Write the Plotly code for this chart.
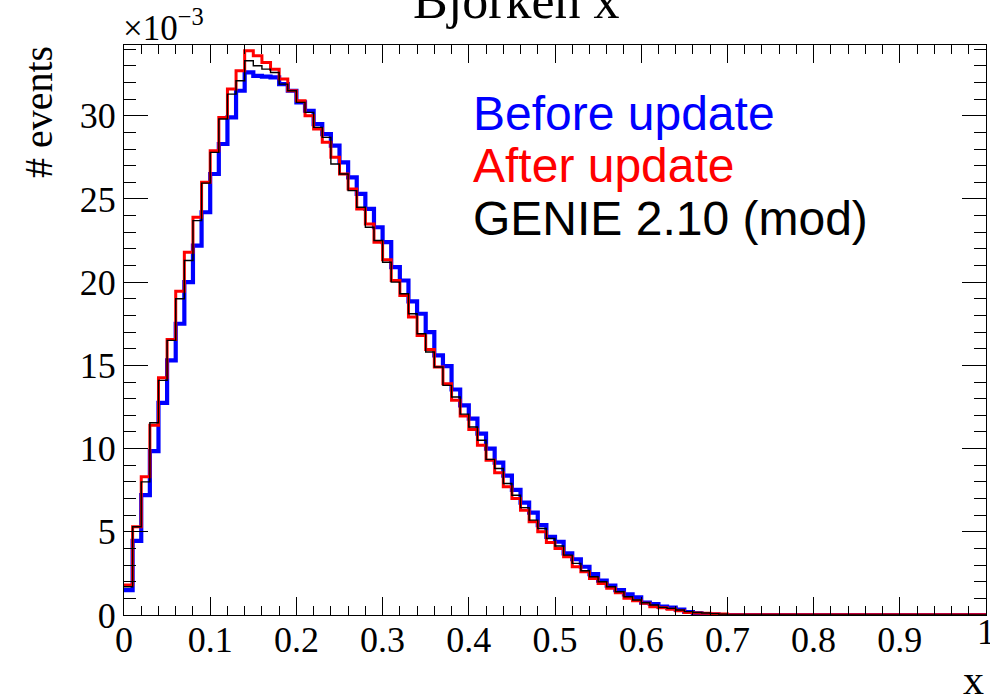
import numpy as np
import plotly.graph_objects as go

# Histogram contents, in units of 1e-3, 100 bins of width 0.01 from x=0 to x=1
bin_lo, bin_hi, n_bins = 0.0, 1.0, 100

before_update = [
    1.5, 4.45, 7.2, 9.85, 12.75, 15.3, 17.5, 20.0, 22.2, 24.2,
    26.5, 28.3, 29.9, 31.5, 32.6, 32.4, 32.35, 32.3, 31.9, 31.5,
    30.8, 30.3, 29.5, 28.9, 28.2, 27.2, 26.3, 25.3, 24.4, 23.3,
    22.4, 20.9, 20.1, 18.85, 18.1, 17.0, 15.6, 14.95, 13.55, 12.6,
    11.8, 10.9, 10.0, 9.15, 8.38, 7.52, 6.75, 6.15, 5.4, 4.7,
    4.4, 3.7, 3.35, 2.9, 2.46, 2.06, 1.76, 1.5, 1.24, 1.06,
    0.74, 0.66, 0.5, 0.44, 0.32, 0.18, 0.1, 0.05, 0.02, 0.0,
    0, 0, 0, 0, 0, 0, 0, 0, 0, 0,
    0, 0, 0, 0, 0, 0, 0, 0, 0, 0,
    0, 0, 0, 0, 0, 0, 0, 0, 0, 0,
]

after_update = [
    1.8, 5.3, 8.3, 11.4, 14.25, 16.55, 19.45, 21.8, 23.9, 26.0,
    27.9, 29.9, 31.6, 32.7, 33.9, 33.6, 33.2, 32.8, 32.2, 31.5,
    30.9, 30.0, 29.2, 28.4, 27.5, 26.5, 25.6, 24.4, 23.5, 22.4,
    21.35, 20.1, 19.2, 17.9, 16.8, 15.95, 14.9, 13.9, 12.9, 11.95,
    11.15, 10.2, 9.3, 8.55, 7.7, 7.0, 6.3, 5.6, 5.0, 4.35,
    4.0, 3.5, 2.9, 2.6, 2.2, 1.9, 1.6, 1.34, 1.0, 0.86,
    0.7, 0.5, 0.44, 0.34, 0.26, 0.15, 0.12, 0.1, 0.08, 0.06,
    0.02, 0.02, 0.02, 0.02, 0.02, 0.02, 0.02, 0.02, 0.02, 0.02,
    0.02, 0.02, 0.02, 0.02, 0.02, 0.02, 0.02, 0.02, 0.02, 0.02,
    0.02, 0.02, 0.02, 0.02, 0.02, 0.02, 0.02, 0.02, 0.02, 0.02,
]

genie_mod = [
    1.7, 5.3, 8.0, 11.55, 14.1, 16.5, 19.0, 21.3, 23.7, 25.95,
    27.8, 29.8, 31.3, 32.1, 33.3, 33.0, 32.8, 32.6, 31.9, 31.5,
    30.8, 30.2, 29.3, 28.7, 27.1, 26.5, 25.5, 24.5, 23.3, 22.5,
    21.2, 20.0, 19.3, 18.1, 16.9, 15.8, 14.9, 13.8, 13.1, 12.07,
    11.3, 10.5, 9.35, 8.8, 7.9, 7.2, 6.45, 5.7, 5.2, 4.6,
    4.15, 3.6, 3.1, 2.66, 2.3, 2.0, 1.7, 1.4, 1.1, 0.9,
    0.74, 0.6, 0.46, 0.4, 0.3, 0.2, 0.15, 0.12, 0.08, 0.05,
    0.01, 0.01, 0.01, 0.01, 0.01, 0.01, 0.01, 0.01, 0.01, 0.01,
    0.01, 0.01, 0.01, 0.01, 0.01, 0.01, 0.01, 0.01, 0.01, 0.01,
    0.01, 0.01, 0.01, 0.01, 0.01, 0.01, 0.01, 0.01, 0.01, 0.01,
]

series_names = ["Before update", "After update", "GENIE 2.10 (mod)"]
x_ticks = [0, 0.1, 0.2, 0.3, 0.4, 0.5, 0.6, 0.7, 0.8, 0.9, 1]
x_tick_labels = ["0", "0.1", "0.2", "0.3", "0.4", "0.5", "0.6", "0.7", "0.8", "0.9", "1"]
y_ticks = [0, 5, 10, 15, 20, 25, 30]
y_tick_labels = ["0", "5", "10", "15", "20", "25", "30"]
y_max = 34.25

edges = np.linspace(bin_lo, bin_hi, n_bins + 1)

def step(vals):
    v = list(vals)
    return v + [v[-1]]

SERIF = "Liberation Serif"
SANS = "Liberation Sans"
TICKSIZE = 36

fig = go.Figure()
styles = [
    (before_update, "#0000ff", 4.2),
    (after_update, "#ff0000", 3.0),
    (genie_mod, "#000000", 1.4),
]
for (vals, col, w), name in zip(styles, series_names):
    fig.add_trace(go.Scatter(
        x=edges, y=step(vals), mode="lines", line_shape="hv",
        line=dict(color=col, width=w), name=name, showlegend=False,
        hoverinfo="skip"))

L, R, T, B = 124, 4, 45, 84
W, H = 990, 699
pw, ph = W - L - R, H - T - B

def px(x):
    return (x - L) / pw

def py(y):
    return (H - B - y) / ph

# last x tick label sits on the right edge (cut in the original); draw it as annotation
shown_x_labels = x_tick_labels[:-1] + [""]

fig.update_layout(
    width=W, height=H,
    margin=dict(l=L, r=R, t=T, b=B, pad=0),
    paper_bgcolor="white", plot_bgcolor="white",
    showlegend=False,
    xaxis=dict(
        range=[bin_lo, bin_hi], tickvals=x_ticks, ticktext=shown_x_labels,
        ticks="inside", ticklen=18, tickwidth=1, tickcolor="black",
        showline=True, linecolor="black", linewidth=1, mirror="ticks",
        showgrid=False, zeroline=False, ticklabelstandoff=-7,
        tickfont=dict(family=SERIF, size=TICKSIZE, color="black"),
        minor=dict(dtick=0.02, ticks="inside", ticklen=9, tickwidth=1,
                   tickcolor="black", showgrid=False),
    ),
    yaxis=dict(
        range=[0, y_max], tickvals=y_ticks, ticktext=y_tick_labels,
        ticks="inside", ticklen=24, tickwidth=1, tickcolor="black",
        showline=True, linecolor="black", linewidth=1, mirror="ticks",
        showgrid=False, zeroline=False,
        tickfont=dict(family=SERIF, size=TICKSIZE, color="black"),
        minor=dict(dtick=1, ticks="inside", ticklen=12, tickwidth=1,
                   tickcolor="black", showgrid=False),
    ),
)

ann = []
# last x tick label (partially outside the page, as in the original)
ann.append(dict(text=x_tick_labels[-1], x=x_ticks[-1], y=0, xref="x", yref="paper",
                xanchor="center", yanchor="top", yshift=5, showarrow=False,
                font=dict(family=SERIF, size=TICKSIZE, color="black")))
# title (cut off at the top like in the original)
ann.append(dict(text="Bjorken x", x=px(516), y=py(19), xref="paper", yref="paper",
                xanchor="center", yanchor="bottom", yshift=-12, showarrow=False,
                font=dict(family=SERIF, size=52, color="black")))
# y axis title
ann.append(dict(text="# events", x=px(38), y=py(112), xref="paper", yref="paper",
                xanchor="center", yanchor="middle", textangle=-90, showarrow=False,
                font=dict(family=SERIF, size=40, color="black")))
# exponent
ann.append(dict(text="×10<sup>−3</sup>", x=px(121), y=py(41), xref="paper", yref="paper",
                xanchor="left", yanchor="bottom", yshift=-9, showarrow=False,
                font=dict(family=SERIF, size=35, color="black")))
# x axis title
ann.append(dict(text="x", x=px(986), y=py(695), xref="paper", yref="paper",
                xanchor="right", yanchor="bottom", yshift=-10, showarrow=False,
                font=dict(family=SERIF, size=42, color="black")))
# legend texts
for name, col, base in zip(series_names, ["#0000ff", "#ff0000", "#000000"], [130, 182.5, 235]):
    ann.append(dict(text=name, x=px(472), y=py(base), xref="paper", yref="paper",
                    xanchor="left", yanchor="bottom", yshift=-11, showarrow=False,
                    borderpad=0,
                    font=dict(family=SANS, size=48, color=col)))
fig.update_layout(annotations=ann)

fig.write_html("out.html")
